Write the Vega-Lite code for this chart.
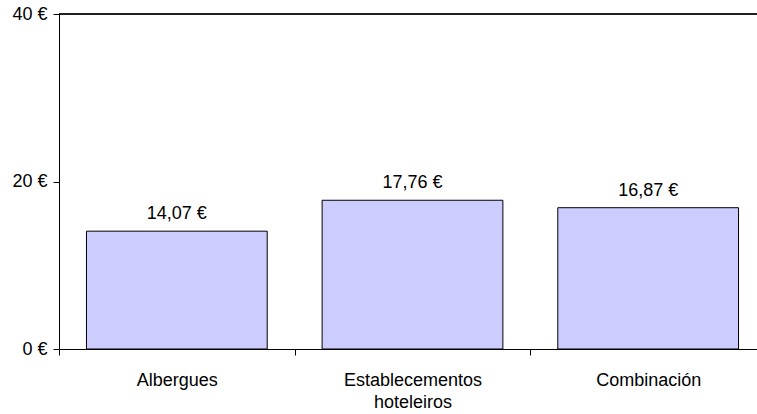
{
  "$schema": "https://vega.github.io/schema/vega-lite/v6.json",
  "width": 698,
  "height": 335,
  "autosize": "none",
  "padding": {"left": 59, "top": 14, "right": 0, "bottom": 65},
  "background": "#ffffff",
  "config": {
    "font": "Liberation Sans",
    "view": {"stroke": null},
    "locale": {
      "number": {"decimal": ",", "thousands": ".", "grouping": [3], "currency": ["", " €"]}
    },
    "axis": {
      "domainColor": "#000000",
      "tickColor": "#000000",
      "labelColor": "#000000",
      "labelFont": "Liberation Sans",
      "labelFontSize": 18,
      "grid": false,
      "title": null
    }
  },
  "data": {
    "values": [
      {"tipo": "Albergues", "valor": 14.07},
      {"tipo": "Establecementos hoteleiros", "valor": 17.76},
      {"tipo": "Combinación", "valor": 16.87}
    ]
  },
  "layer": [
    {
      "mark": {"type": "bar", "fill": "#CCCCFF", "stroke": "#000000", "strokeWidth": 1, "width": {"band": 0.767}},
      "encoding": {
        "x": {
          "field": "tipo",
          "type": "nominal",
          "sort": null,
          "scale": {"paddingInner": 0, "paddingOuter": 0, "range": [0, 707]},
          "axis": {
            "labelAngle": 0,
            "tickBand": "extent",
            "tickSize": 6,
            "labelPadding": 16,
            "labelLineHeight": 22,
            "labelExpr": "split(datum.label, ' ')"
          }
        },
        "y": {
          "field": "valor",
          "type": "quantitative",
          "scale": {"domain": [0, 40], "nice": false},
          "axis": {"values": [0, 20, 40], "format": "$.0f", "tickSize": 6, "labelPadding": 6}
        }
      }
    },
    {
      "mark": {"type": "text", "dy": -12, "fontSize": 18, "font": "Liberation Sans", "color": "#000000", "baseline": "alphabetic"},
      "encoding": {
        "x": {"field": "tipo", "type": "nominal", "sort": null},
        "y": {"field": "valor", "type": "quantitative"},
        "text": {"field": "valor", "type": "quantitative", "format": "$.2f"}
      }
    },
    {
      "mark": {"type": "rule", "color": "#000000", "strokeWidth": 1},
      "encoding": {"y": {"datum": 40}}
    }
  ]
}
